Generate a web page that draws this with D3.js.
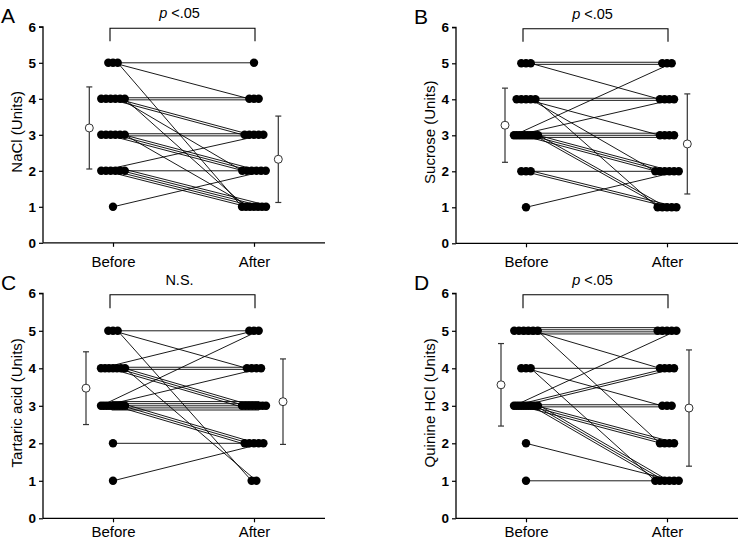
<!DOCTYPE html>
<html><head><meta charset="utf-8">
<script src="https://cdn.jsdelivr.net/npm/d3@7"></script>
<style>body{margin:0;background:#fff} svg{display:block}</style>
</head><body>
<svg id="chart" width="741" height="543"></svg>
<script>
// ---------- data ----------
const categories = ["Before", "After"];
const yTickValues = [0, 1, 2, 3, 4, 5, 6];
const panelLetters = ["A", "B", "C", "D"];
const yTitles = ["NaCl (Units)", "Sucrose (Units)", "Tartaric acid (Units)", "Quinine HCl (Units)"];
const sigLabels = ["p <.05", "p <.05", "N.S.", "p <.05"];

const beforeA = [5,5,5, 4,4,4,4,4,4, 3,3,3,3,3,3, 2,2,2,2,2,2, 1];
const afterA  = [5,4,1, 4,4,3,3,2,1, 3,3,2,2,2,1, 3,2,1,1,1,1, 2];
const beforeB = [5,5,5, 4,4,4,4,4, 3,3,3,3,3,3,3,3,3,3, 2,2,2, 1];
const afterB  = [5,5,4, 4,4,3,2,1, 5,4,3,3,3,2,2,2,1,1, 2,1,1, 2];
const beforeC = [5,5,5, 4,4,4,4,4,4,4, 3,3,3,3,3,3,3,3,3,3, 2, 1];
const afterC  = [5,4,1, 5,4,4,3,3,3,1, 5,4,3,3,3,3,3,2,2,2, 2, 2];
const beforeD = [5,5,5,5,5,5, 4,4,4, 3,3,3,3,3,3,3,3,3,3,3, 2, 1];
const afterD  = [5,5,5,5,4,2, 4,3,1, 5,4,4,3,3,2,2,2,1,1,1, 1, 1];

const meanBefore = [3.19, 3.28, 3.47, 3.56];
const sdBefore   = [1.14, 1.03, 0.97, 1.10];
const meanAfter  = [2.32, 2.76, 3.11, 2.94];
const sdAfter    = [1.20, 1.39, 1.14, 1.55];

const beforeSets = [beforeA, beforeB, beforeC, beforeD];
const afterSets  = [afterA, afterB, afterC, afterD];

// ---------- layout ----------
const axisLeft = [43, 456, 43, 456];
const axisBottom = [242.8, 243.3, 518.3, 518.3];
const unitPx = [36, 36, 37.5, 37.5];
const markerDx = [[23.7, 24.3], [21, 20.3], [27, 29], [25, 22]];
const xLabelBaseline = [24.2, 24.2, 18.7, 18.7];

const svg = d3.select("#chart");
const FONT = "Liberation Sans, Arial, sans-serif";

function spreadPositions(n) {
  if (n <= 1) return [0];
  const sp = Math.min(4.7, 24 / (n - 1));
  return d3.range(n).map(i => (i - (n - 1) / 2) * sp);
}

for (let p = 0; p < 4; p++) {
  const L = axisLeft[p], B0 = axisBottom[p], U = unitPx[p];
  const g = svg.append("g");
  const y = d3.scaleLinear().domain([0, 6]).range([B0, B0 - 6 * U]);
  const x = d3.scalePoint().domain(categories).range([L + 70, L + 211]);
  const R = L + 282;

  // panel letter
  g.append("text").attr("x", L - 42).attr("y", y(6) - 3.5)
    .attr("font-family", FONT).attr("font-size", 21).text(panelLetters[p]);

  // y axis
  const ya = g.append("g").attr("transform", `translate(${L},0)`)
    .call(d3.axisLeft(y).tickValues(yTickValues).tickFormat(d3.format("d")).tickSize(4).tickPadding(3));
  ya.select(".domain").attr("d", `M-4,${y(6)}H0V${y(0)}`).attr("stroke", "#000").attr("stroke-width", 1.3);
  ya.selectAll(".tick line").attr("stroke", "#000").attr("stroke-width", 1.2);
  ya.selectAll(".tick text").attr("font-family", FONT).attr("font-size", 13.5).attr("font-weight", "bold").attr("fill", "#000");

  // x axis
  const xa = g.append("g").attr("transform", `translate(0,${B0})`)
    .call(d3.axisBottom(x).tickSize(4).tickSizeOuter(0));
  xa.select(".domain").attr("d", `M${L},0H${R}`).attr("stroke", "#000").attr("stroke-width", 1.3);
  xa.selectAll(".tick line").attr("stroke", "#000").attr("stroke-width", 1.2);
  xa.selectAll(".tick text").attr("dy", null).attr("y", xLabelBaseline[p])
    .attr("font-family", FONT).attr("font-size", 15).attr("fill", "#000");

  // y title
  g.append("text")
    .attr("transform", `translate(${L - 26},${y(3) - 3}) rotate(-90)`)
    .attr("text-anchor", "middle").attr("dy", "0.35em")
    .attr("font-family", FONT).attr("font-size", 15).text(yTitles[p]);

  // significance bracket
  const bx1 = L + 67, bx2 = L + 212, bt = y(6) + 1.5, bb = y(5.6);
  g.append("path").attr("d", `M${bx1},${bb}V${bt}H${bx2}V${bb}`)
    .attr("fill", "none").attr("stroke", "#000").attr("stroke-width", 1.1);
  const st = g.append("text").attr("x", (bx1 + bx2) / 2 - 3).attr("y", bt - 10)
    .attr("text-anchor", "middle").attr("font-family", FONT).attr("font-size", 14.5);
  const lab = sigLabels[p];
  if (lab.startsWith("p ")) {
    st.append("tspan").attr("font-style", "italic").text("p");
    st.append("tspan").text(lab.slice(1));
  } else st.text(lab);

  // subjects
  const bef = beforeSets[p], aft = afterSets[p];
  const subj = bef.map((b, i) => ({ b, a: aft[i], i }));
  const bx = x("Before"), ax = x("After");
  d3.groups(subj, d => d.b).forEach(([v, arr]) => {
    arr.sort((m, n) => n.a - m.a || m.i - n.i);
    const pos = spreadPositions(arr.length);
    arr.forEach((d, k) => d.bx = bx + pos[k]);
  });
  d3.groups(subj, d => d.a).forEach(([v, arr]) => {
    arr.sort((m, n) => n.b - m.b || m.i - n.i);
    const pos = spreadPositions(arr.length);
    arr.forEach((d, k) => d.ax = ax + pos[k]);
  });
  // line endpoints: identical pairs drawn as parallel strands
  d3.groups(subj, d => d.b + "_" + d.a).forEach(([key, arr]) => {
    const m = arr.length;
    if (m === 1) {
      const d = arr[0];
      d.x1 = d.bx; d.y1 = y(d.b); d.x2 = d.ax; d.y2 = y(d.a);
      return;
    }
    const cx1 = d3.mean(arr, d => d.bx), cx2 = d3.mean(arr, d => d.ax);
    const y1 = y(arr[0].b), y2 = y(arr[0].a);
    const dx = cx2 - cx1, dy = y2 - y1, len = Math.hypot(dx, dy);
    const nx = -dy / len, ny = dx / len;
    arr.forEach((d, k) => {
      const o = (k - (m - 1) / 2) * 2.1;
      d.x1 = cx1 + nx * o; d.y1 = y1 + ny * o;
      d.x2 = cx2 + nx * o; d.y2 = y2 + ny * o;
    });
  });

  g.append("g").selectAll("line").data(subj).join("line")
    .attr("x1", d => d.x1).attr("y1", d => d.y1)
    .attr("x2", d => d.x2).attr("y2", d => d.y2)
    .attr("stroke", "#000").attr("stroke-width", 0.9);

  const dots = subj.flatMap(d => [{ cx: d.bx, v: d.b }, { cx: d.ax, v: d.a }]);
  g.append("g").selectAll("circle").data(dots).join("circle")
    .attr("cx", d => d.cx).attr("cy", d => y(d.v)).attr("r", 4.2).attr("fill", "#000");

  // mean ± SD
  const stats = [
    { cx: bx - markerDx[p][0], m: meanBefore[p], s: sdBefore[p] },
    { cx: ax + markerDx[p][1], m: meanAfter[p], s: sdAfter[p] }
  ];
  const eg = g.append("g");
  stats.forEach(s => {
    eg.append("line").attr("x1", s.cx).attr("x2", s.cx)
      .attr("y1", y(s.m + s.s)).attr("y2", y(s.m - s.s)).attr("stroke", "#333").attr("stroke-width", 1.2);
    [s.m + s.s, s.m - s.s].forEach(v => eg.append("line")
      .attr("x1", s.cx - 3).attr("x2", s.cx + 3).attr("y1", y(v)).attr("y2", y(v))
      .attr("stroke", "#333").attr("stroke-width", 1.2));
    eg.append("circle").attr("cx", s.cx).attr("cy", y(s.m)).attr("r", 4)
      .attr("fill", "#fff").attr("stroke", "#333").attr("stroke-width", 1);
  });
}
</script>
</body></html>
